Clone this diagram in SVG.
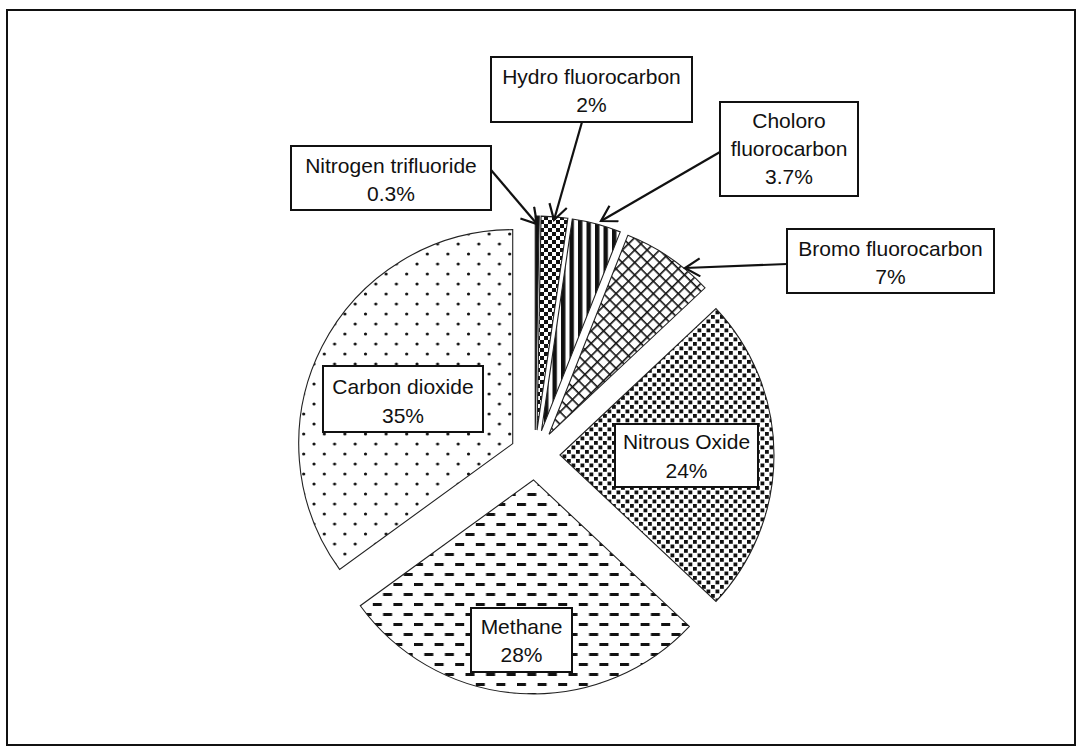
<svg xmlns="http://www.w3.org/2000/svg" width="1082" height="751" viewBox="0 0 1082 751">
<style>
.slice{stroke:#222;stroke-width:1.1}
.box{fill:#fff;stroke:#111;stroke-width:2}
.lbl{font-family:"Liberation Sans",Arial,sans-serif;font-size:21px;fill:#111;text-anchor:middle}
.lead{stroke:#111;stroke-width:2.2;fill:none}
</style>
<defs>
<pattern id="pDots" patternUnits="userSpaceOnUse" width="20.6" height="20" x="3" y="2">
<circle cx="2" cy="2" r="1.6" fill="#111"/>
<circle cx="12.3" cy="12" r="1.6" fill="#111"/>
</pattern>
<pattern id="pDash" patternUnits="userSpaceOnUse" width="20.6" height="20" x="2" y="3">
<rect x="0" y="0" width="9" height="3" fill="#111"/>
<rect x="10.3" y="10" width="9" height="3" fill="#111"/>
</pattern>
<pattern id="pConf" patternUnits="userSpaceOnUse" width="9" height="9">
<rect x="0" y="0" width="3.8" height="3.8" fill="#111"/>
<rect x="4.5" y="4.5" width="3.8" height="3.8" fill="#111"/>
</pattern>
<pattern id="pGrid" patternUnits="userSpaceOnUse" width="8.8" height="8.8" patternTransform="rotate(45)">
<rect x="0" y="0" width="8.8" height="1.6" fill="#111"/>
<rect x="0" y="0" width="1.6" height="8.8" fill="#111"/>
</pattern>
<pattern id="pVert" patternUnits="userSpaceOnUse" width="8.5" height="10">
<rect x="0" y="0" width="4.4" height="10" fill="#111"/>
</pattern>
<pattern id="pCheck" patternUnits="userSpaceOnUse" width="8" height="8">
<rect x="0" y="0" width="4" height="4" fill="#111"/>
<rect x="4" y="4" width="4" height="4" fill="#111"/>
</pattern>
<marker id="arr" markerUnits="userSpaceOnUse" markerWidth="20" markerHeight="20" viewBox="0 0 20 20" refX="18" refY="10" orient="auto">
<path d="M3,1 L18,10 L3,19" fill="none" stroke="#111" stroke-width="2.2"/>
</marker>
</defs>
<rect x="0" y="0" width="1082" height="751" fill="#fff"/>
<rect x="7" y="10" width="1068" height="735" fill="none" stroke="#111" stroke-width="2"/>

<g id="slice-co2"><path class="slice" fill="url(#pDots)" d="M512.72,443.65 L339.59,569.44 A214,214 0 0 1 512.72,229.65 Z"/></g>
<g id="slice-methane"><path class="slice" fill="url(#pDash)" d="M533.43,479.95 L689.43,626.44 A214,214 0 0 1 360.3,605.74 Z"/></g>
<g id="slice-n2o"><path class="slice" fill="url(#pConf)" d="M560,455 L716,308.51 A214,214 0 0 1 716,601.49 Z"/></g>
<g id="slice-bfc"><path class="slice" fill="url(#pGrid)" d="M549.05,434.32 L627.83,235.35 A214,214 0 0 1 705.05,287.83 Z"/></g>
<g id="slice-cfc"><path class="slice" fill="url(#pVert)" d="M541.45,430.85 L572.27,219.08 A214,214 0 0 1 620.23,231.88 Z"/></g>
<g id="slice-hfc"><path class="slice" fill="url(#pCheck)" d="M537.04,430.08 L541.07,216.12 A214,214 0 0 1 567.86,218.31 Z"/></g>
<g id="slice-nf3"><path class="slice" fill="#111" d="M535.24,430 L535.24,216 A214,214 0 0 1 539.27,216.04 Z"/></g>

<g id="connectors">
<line class="lead" x1="491" y1="170" x2="537" y2="224" marker-end="url(#arr)"/>
<line class="lead" x1="582" y1="122" x2="554" y2="220" marker-end="url(#arr)"/>
<line class="lead" x1="720" y1="152" x2="601" y2="221" marker-end="url(#arr)"/>
<line class="lead" x1="787" y1="264" x2="685" y2="268" marker-end="url(#arr)"/>
</g>

<g id="label-nf3"><rect class="box" x="291" y="146" width="200" height="64"/>
<text class="lbl" x="391" y="173">Nitrogen trifluoride</text><text class="lbl" x="391" y="201">0.3%</text></g>
<g id="label-hfc"><rect class="box" x="491" y="57" width="201" height="65"/>
<text class="lbl" x="591.5" y="84">Hydro fluorocarbon</text><text class="lbl" x="591.5" y="112">2%</text></g>
<g id="label-cfc"><rect class="box" x="720" y="102" width="138" height="94"/>
<text class="lbl" x="789" y="128">Choloro</text><text class="lbl" x="789" y="156">fluorocarbon</text><text class="lbl" x="789" y="184">3.7%</text></g>
<g id="label-bfc"><rect class="box" x="787" y="229" width="207" height="64"/>
<text class="lbl" x="890.5" y="256">Bromo fluorocarbon</text><text class="lbl" x="890.5" y="284">7%</text></g>
<g id="label-co2"><rect class="box" x="323" y="366" width="160" height="66"/>
<text class="lbl" x="403" y="394">Carbon dioxide</text><text class="lbl" x="403" y="423">35%</text></g>
<g id="label-n2o"><rect class="box" x="615" y="424" width="143" height="63"/>
<text class="lbl" x="686.5" y="449">Nitrous Oxide</text><text class="lbl" x="686.5" y="478">24%</text></g>
<g id="label-methane"><rect class="box" x="471" y="608" width="101" height="64"/>
<text class="lbl" x="521.5" y="634">Methane</text><text class="lbl" x="521.5" y="662">28%</text></g>
</svg>
